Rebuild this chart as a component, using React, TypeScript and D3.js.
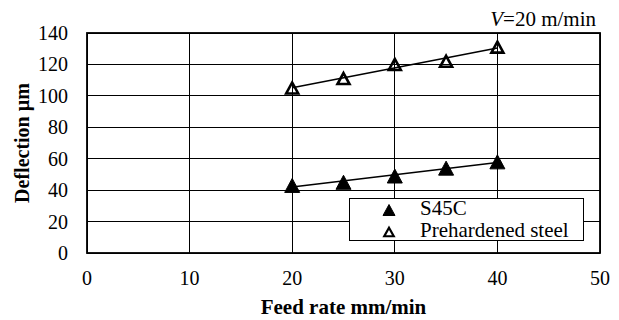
import React from 'react';
import * as d3 from 'd3';

const feedRates = [20, 25, 30, 35, 40];
const s45c = [43, 45, 49, 54, 58];
const prehardened = [105, 111, 120, 122, 131];
const xTicks = [0, 10, 20, 30, 40, 50];
const yTicks = [0, 20, 40, 60, 80, 100, 120, 140];

const FONT = 'Liberation Serif';

// least squares line, the chart shows a linear trendline per series
function fitLine(xs: number[], ys: number[]) {
  const mx = d3.mean(xs)!;
  const my = d3.mean(ys)!;
  const slope = d3.sum(xs, (x, i) => (x - mx) * (ys[i] - my)) / d3.sum(xs, x => (x - mx) ** 2);
  return (x: number) => my + slope * (x - mx);
}

function tri(w: number, h: number) {
  return `M0,${-h / 2}L${w / 2},${h / 2}L${-w / 2},${h / 2}Z`;
}

const margin = { top: 33, right: 19, bottom: 67, left: 87 };
const W = 619, H = 320;
const width = W - margin.left - margin.right;
const height = H - margin.top - margin.bottom;

export default function App() {
  const x = d3.scaleLinear().domain([0, 50]).range([0, width]);
  const y = d3.scaleLinear().domain([0, 140]).range([height, 0]);

  const series = [
    { values: s45c, filled: true, label: 'S45C' },
    { values: prehardened, filled: false, label: 'Prehardened steel' },
  ];
  const x0 = d3.min(feedRates)!, x1 = d3.max(feedRates)!;
  const txt = { fontFamily: FONT, fontSize: '20px' };

  return (
    <svg width={W} height={H} style={{ position: 'absolute', left: 0, top: 0, background: '#fff' }}>
      <g transform={`translate(${margin.left},${margin.top})`}>
        {xTicks.map(t => (
          <line key={'gx' + t} x1={x(t)} x2={x(t)} y1={0} y2={height}
            stroke="#000" strokeWidth={1} shapeRendering="crispEdges" />
        ))}
        {yTicks.map(t => (
          <line key={'gy' + t} x1={0} x2={width} y1={y(t)} y2={y(t)}
            stroke="#000" strokeWidth={1} shapeRendering="crispEdges" />
        ))}
        <rect width={width} height={height} fill="none" stroke="#000" strokeWidth={1.8} />

        {yTicks.map(t => (
          <text key={'ly' + t} x={-19} y={y(t)} dy="0.35em" textAnchor="end" style={txt}>{t}</text>
        ))}
        {xTicks.map(t => (
          <text key={'lx' + t} x={x(t)} y={height + 32} textAnchor="middle" style={txt}>{t}</text>
        ))}

        {series.map(s => {
          const f = fitLine(feedRates, s.values);
          return (
            <g key={s.label}>
              <line x1={x(x0)} y1={y(f(x0))} x2={x(x1)} y2={y(f(x1))} stroke="#000" strokeWidth={1.5} />
              {s.values.map((v, i) => (
                <path key={i} transform={`translate(${x(feedRates[i])},${y(v)})`}
                  d={s.filled ? tri(15, 14) : tri(12, 11)}
                  fill={s.filled ? '#000' : 'none'} stroke="#000"
                  strokeWidth={s.filled ? 1 : 2.6} />
              ))}
            </g>
          );
        })}
      </g>

      <rect x={349.5} y={198.5} width={234} height={42} fill="#fff" stroke="#000" strokeWidth={1} />
      {series.map((s, i) => {
        const cy = 210 + i * 22;
        return (
          <g key={'lg' + s.label}>
            <path transform={`translate(389,${cy})`} d={s.filled ? tri(12, 11) : tri(9.5, 8.5)}
              fill={s.filled ? '#000' : 'none'} stroke="#000" strokeWidth={s.filled ? 1 : 2.2} />
            <text x={420} y={cy + 5} style={{ fontFamily: FONT, fontSize: '21px' }}>{s.label}</text>
          </g>
        );
      })}

      <text x={margin.left + width / 2} y={314} textAnchor="middle"
        style={{ fontFamily: FONT, fontSize: '21px', fontWeight: 'bold' }}>Feed rate mm/min</text>
      <text transform={`translate(29,${margin.top + height / 2}) rotate(-90)`} textAnchor="middle"
        style={{ fontFamily: FONT, fontSize: '20px', fontWeight: 'bold' }}>Deflection µm</text>
      <text x={596} y={26} textAnchor="end" style={{ fontFamily: FONT, fontSize: '21px' }}>
        <tspan fontStyle="italic">V</tspan>=20 m/min
      </text>
    </svg>
  );
}
